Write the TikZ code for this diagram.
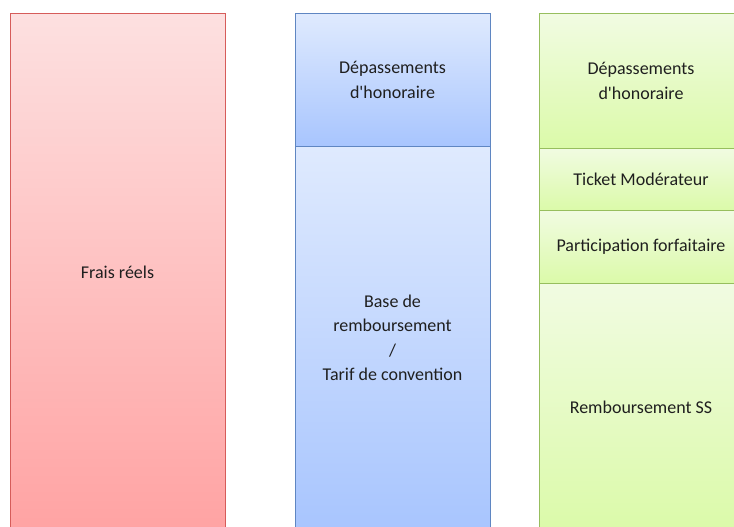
\documentclass[tikz,border=0pt]{standalone}
\usepackage{fontspec}
\setmainfont{Carlito}[Ligatures=TeXOff]
\definecolor{redline}{HTML}{D65C5A}
\definecolor{redtop}{HTML}{FDE0E0}
\definecolor{redbot}{HTML}{FFA3A3}
\definecolor{blueline}{HTML}{5F86C2}
\definecolor{bluetop}{HTML}{DFEAFE}
\definecolor{bluebot}{HTML}{A8C5FE}
\definecolor{greenline}{HTML}{97BE5E}
\definecolor{greentop}{HTML}{F1FBE2}
\definecolor{greenbot}{HTML}{DBFAA9}
\begin{document}
\begin{tikzpicture}
  [x=1pt,y=-1pt,every node/.style={rectangle,inner sep=0pt,align=center,line width=1pt,
     text=black!88,font=\fontsize{18}{24.5}\selectfont},
   redbox/.style={draw=redline,top color=redtop,bottom color=redbot},
   bluebox/.style={draw=blueline,top color=bluetop,bottom color=bluebot},
   greenbox/.style={draw=greenline,top color=greentop,bottom color=greenbot}]
  \useasboundingbox (0,0) rectangle (734,527);
  \clip (0,0) rectangle (734,527);

  \node (frais)[redbox,minimum width=215,minimum height=516] at (117.5,272) {Frais réels};

  \node (depA)[bluebox,minimum width=195,minimum height=132] at (392.5,80) {Dépassements\\d'honoraire};
  \node (base)[bluebox,minimum width=195,minimum height=384] at (392.5,338) {Base de\\remboursement\\/\\Tarif de convention};

  \node (depB)[greenbox,minimum width=204,minimum height=134] at (641,81) {Dépassements\\d'honoraire};
  \node (ticket)[greenbox,minimum width=204,minimum height=62] at (641,179) {Ticket Modérateur};
  \node (forfait)[greenbox,minimum width=204,minimum height=73] at (641,246.5) {Participation forfaitaire};
  \node (rembt)[greenbox,minimum width=204,minimum height=248] at (641,407) {Remboursement SS};

\end{tikzpicture}
\end{document}
